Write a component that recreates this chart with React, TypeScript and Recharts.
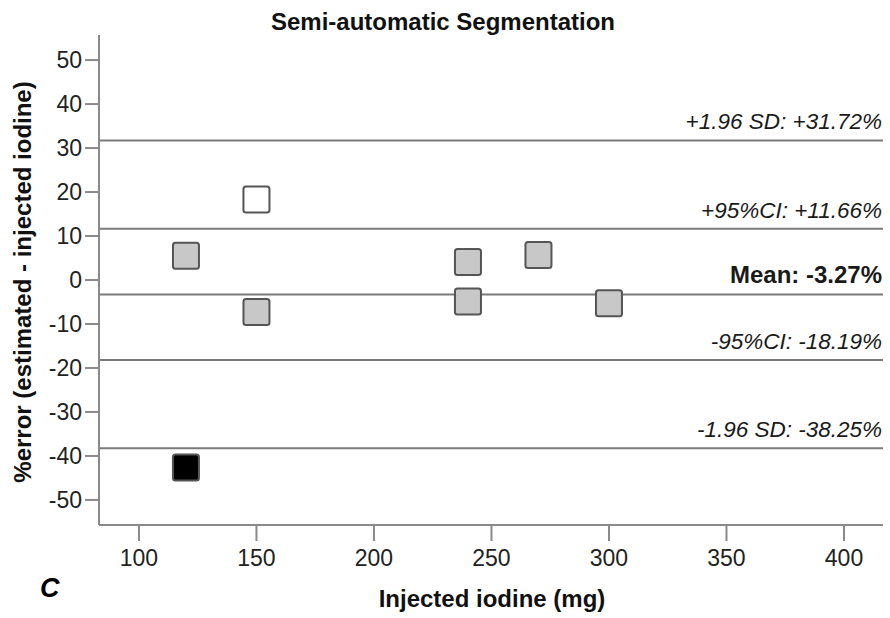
import React from 'react';
import { ScatterChart, Scatter, XAxis, YAxis, ReferenceLine, Customized } from 'recharts';

const grayX = [120, 150, 240, 240, 270, 300];
const grayY = [5.5, -7.3, 4.1, -4.9, 5.7, -5.3];
const whiteX = [150];
const whiteY = [18.3];
const blackX = [120];
const blackY = [-42.6];

const xTicks = [100, 150, 200, 250, 300, 350, 400];
const yTicks = [-50, -40, -30, -20, -10, 0, 10, 20, 30, 40, 50];

const refValues = [31.72, 11.66, -3.27, -18.19, -38.25];
const refLabels = ['+1.96 SD: +31.72%', '+95%CI: +11.66%', 'Mean: -3.27%', '-95%CI: -18.19%', '-1.96 SD: -38.25%'];

const toPoints = (xs: number[], ys: number[]) => xs.map((x, i) => ({ x, y: ys[i] }));
const grayData = toPoints(grayX, grayY);
const whiteData = toPoints(whiteX, whiteY);
const blackData = toPoints(blackX, blackY);

const FONT = '"Liberation Sans", Arial, sans-serif';
const AXIS = '#8a8a8a';

const makeSquare = (fill: string) => (props: any) => {
  const { cx, cy } = props;
  const s = 26;
  return (
    <rect
      x={cx - s / 2}
      y={cy - s / 2}
      width={s}
      height={s}
      rx={2.5}
      ry={2.5}
      fill={fill}
      stroke="#555"
      strokeWidth={2}
    />
  );
};

const refLabel = (text: string, bold: boolean) => (props: any) => {
  const vb = props.viewBox || {};
  return (
    <text
      x={vb.x + vb.width - 1}
      y={vb.y - 11}
      textAnchor="end"
      fontFamily={FONT}
      fontSize={bold ? 24 : 22.5}
      fontWeight={bold ? 'bold' : 'normal'}
      fontStyle={bold ? 'normal' : 'italic'}
      fill="#1a1a1a"
    >
      {text}
    </text>
  );
};

const Texts = () => (
  <g>
    <text x={443} y={30} textAnchor="middle" fontFamily={FONT} fontSize={24} fontWeight="bold" fill="#111">
      Semi-automatic Segmentation
    </text>
    <text x={492} y={607} textAnchor="middle" fontFamily={FONT} fontSize={24} fontWeight="bold" fill="#111">
      Injected iodine (mg)
    </text>
    <text
      x={31}
      y={282}
      transform="rotate(-90 31 282)"
      textAnchor="middle"
      fontFamily={FONT}
      fontSize={24}
      fontWeight="bold"
      fill="#111"
    >
      %error (estimated - injected iodine)
    </text>
    <text x={40} y={597} fontFamily={FONT} fontSize={27} fontWeight="bold" fontStyle="italic" fill="#000">
      C
    </text>
  </g>
);

export default function App() {
  return (
    <div style={{ position: 'absolute', left: 0, top: 0, width: 890, height: 618, background: '#fff' }}>
      <ScatterChart width={890} height={618} margin={{ top: 35, right: 7, bottom: 33, left: 39 }}>
        <XAxis
          type="number"
          dataKey="x"
          domain={[83, 416.6]}
          ticks={xTicks}
          allowDataOverflow
          height={60}
          tickSize={16}
          tickMargin={9}
          stroke={AXIS}
          strokeWidth={2}
          tickLine={{ stroke: AXIS, strokeWidth: 2 }}
          tick={{ fontFamily: FONT, fontSize: 23, fill: '#222' }}
        />
        <YAxis
          type="number"
          dataKey="y"
          domain={[-55.7, 55.7]}
          ticks={yTicks}
          allowDataOverflow
          width={60}
          tickSize={14}
          tickMargin={3}
          stroke={AXIS}
          strokeWidth={2}
          tickLine={{ stroke: AXIS, strokeWidth: 2 }}
          tick={{ fontFamily: FONT, fontSize: 23, fill: '#222' }}
        />
        {refValues.map((v, i) => (
          <ReferenceLine
            key={v}
            y={v}
            stroke="#7a7a7a"
            strokeWidth={2}
            label={refLabel(refLabels[i], i === 2)}
          />
        ))}
        <Scatter data={grayData} shape={makeSquare('#c8c8c8')} isAnimationActive={false} />
        <Scatter data={whiteData} shape={makeSquare('#ffffff')} isAnimationActive={false} />
        <Scatter data={blackData} shape={makeSquare('#000000')} isAnimationActive={false} />
        <Customized component={Texts} />
      </ScatterChart>
    </div>
  );
}
